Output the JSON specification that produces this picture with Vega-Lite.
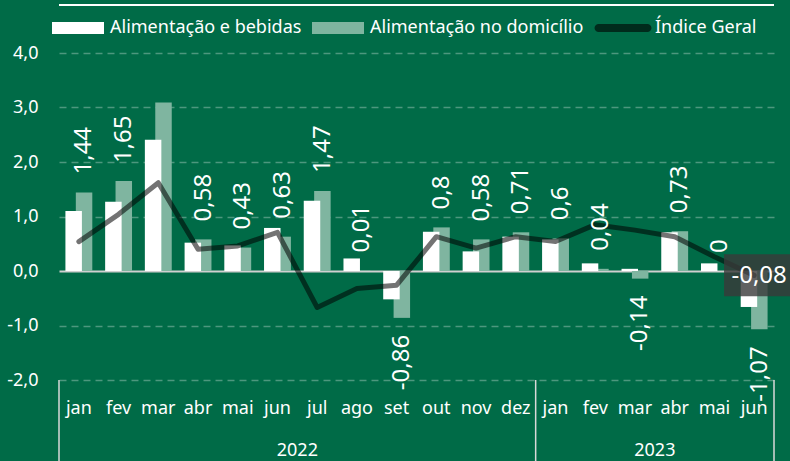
{
  "$schema": "https://vega.github.io/schema/vega-lite/v6.json",
  "width": 715,
  "height": 327,
  "autosize": {"type": "none"},
  "padding": {"left": 59, "top": 53, "right": 16, "bottom": 81},
  "background": "#006b47",
  "config": {
    "view": {"stroke": null},
    "font": "Noto Sans",
    "legend": {
      "orient": "none",
      "legendX": -7,
      "legendY": -51,
      "direction": "horizontal",
      "labelFontSize": 18,
      "labelColor": "#ffffff",
      "labelLimit": 0,
      "labelOffset": 6,
      "columnPadding": 10,
      "symbolSize": 2704,
      "title": null
    }
  },
  "datasets": {
    "main": [
      {"m": "jan/22", "ab": 1.10, "dom": 1.44, "ig": 0.54, "lab": "1,44"},
      {"m": "fev/22", "ab": 1.27, "dom": 1.65, "ig": 1.04, "lab": "1,65"},
      {"m": "mar/22", "ab": 2.41, "dom": 3.09, "ig": 1.62, "lab": ""},
      {"m": "abr/22", "ab": 0.52, "dom": 0.58, "ig": 0.40, "lab": "0,58"},
      {"m": "mai/22", "ab": 0.47, "dom": 0.43, "ig": 0.46, "lab": "0,43"},
      {"m": "jun/22", "ab": 0.79, "dom": 0.63, "ig": 0.71, "lab": "0,63"},
      {"m": "jul/22", "ab": 1.29, "dom": 1.47, "ig": -0.67, "lab": "1,47"},
      {"m": "ago/22", "ab": 0.23, "dom": 0.01, "ig": -0.32, "lab": "0,01"},
      {"m": "set/22", "ab": -0.52, "dom": -0.86, "ig": -0.26, "lab": "-0,86"},
      {"m": "out/22", "ab": 0.72, "dom": 0.80, "ig": 0.63, "lab": "0,8"},
      {"m": "nov/22", "ab": 0.36, "dom": 0.58, "ig": 0.42, "lab": "0,58"},
      {"m": "dez/22", "ab": 0.63, "dom": 0.71, "ig": 0.63, "lab": "0,71"},
      {"m": "jan/23", "ab": 0.58, "dom": 0.60, "ig": 0.54, "lab": "0,6"},
      {"m": "fev/23", "ab": 0.14, "dom": 0.04, "ig": 0.85, "lab": "0,04"},
      {"m": "mar/23", "ab": 0.04, "dom": -0.14, "ig": 0.75, "lab": "-0,14"},
      {"m": "abr/23", "ab": 0.71, "dom": 0.73, "ig": 0.63, "lab": "0,73"},
      {"m": "mai/23", "ab": 0.14, "dom": 0.00, "ig": 0.26, "lab": "0"},
      {"m": "jun/23", "ab": -0.66, "dom": -1.07, "ig": -0.08, "lab": "-1,07"}
    ],
    "years": [
      {"m": "jun/22", "ano": "2022"},
      {"m": "mar/23", "ano": "2023"}
    ],
    "startEdges": [{"m": "jan/22"}, {"m": "jan/23"}],
    "endEdges": [{"m": "jun/23"}],
    "last": [{"m": "jun/23", "ig": -0.08, "t": "-0,08"}],
    "top": [{"v": 4.88}]
  },
  "data": {"name": "main"},
  "layer": [
    {
      "mark": {"type": "bar", "width": {"band": 0.415}, "xOffset": 5.2},
      "encoding": {
        "x": {
          "field": "m",
          "type": "nominal",
          "scale": {
            "domain": ["jan/22","fev/22","mar/22","abr/22","mai/22","jun/22","jul/22","ago/22","set/22","out/22","nov/22","dez/22","jan/23","fev/23","mar/23","abr/23","mai/23","jun/23"],
            "paddingInner": 0,
            "paddingOuter": 0
          },
          "axis": {
            "title": null,
            "labelExpr": "split(datum.label, '/')[0]",
            "labelAngle": 0,
            "labelFontSize": 18,
            "labelColor": "#ffffff",
            "labelPadding": 19,
            "domain": false,
            "ticks": false,
            "grid": false
          }
        },
        "y": {
          "field": "dom",
          "type": "quantitative",
          "title": null,
          "scale": {"domain": [-2, 4], "nice": false, "zero": false},
          "axis": {
            "values": [-2, -1, 0, 1, 2, 3, 4],
            "labelExpr": "(datum.value < 0 ? '-' : '') + replace(format(abs(datum.value), '.1f'), '.', ',')",
            "labelFontSize": 18,
            "labelColor": "#ffffff",
            "labelPadding": 21,
            "domain": false,
            "ticks": false,
            "title": null,
            "gridColor": {"condition": {"test": "datum.value === 0", "value": "#d0d0d0"}, "value": "#ffffff"},
            "gridOpacity": {"condition": {"test": "datum.value === 0", "value": 1}, "value": 0.3},
            "gridDash": {"condition": {"test": "datum.value === 0", "value": []}, "value": [7, 5]},
            "gridWidth": {"condition": {"test": "datum.value === 0", "value": 2}, "value": 1.3}
          }
        },
        "y2": {"datum": 0},
        "color": {
          "datum": "Alimentação no domicílio",
          "scale": {
            "domain": ["Alimentação e bebidas", "Alimentação no domicílio", "Índice Geral"],
            "range": ["#ffffff", "#7fb5a0", "#000000"]
          },
          "legend": {
            "encode": {
              "symbols": {
                "update": {
                  "shape": {"signal": "datum.value === 'Índice Geral' ? 'M-0.94,-0.155L0.94,-0.155A0.155,0.155 0 0 1 0.94,0.155L-0.94,0.155A0.155,0.155 0 0 1 -0.94,-0.155Z' : 'M-1,-0.23L1,-0.23L1,0.23L-1,0.23Z'"},
                  "fillOpacity": {"signal": "datum.value === 'Índice Geral' ? 0.6 : 1"},
                  "opacity": {"value": 1},
                  "strokeWidth": {"value": 0}
                }
              }
            }
          }
        }
      }
    },
    {
      "mark": {"type": "bar", "width": {"band": 0.415}, "xOffset": -5.2},
      "encoding": {
        "x": {"field": "m", "type": "nominal"},
        "y": {"field": "ab", "type": "quantitative", "title": null},
        "y2": {"datum": 0},
        "color": {"datum": "Alimentação e bebidas"}
      }
    },
    {
      "mark": {"type": "line", "strokeWidth": 5, "opacity": 0.55, "strokeCap": "round", "strokeJoin": "round"},
      "encoding": {
        "x": {"field": "m", "type": "nominal"},
        "y": {"field": "ig", "type": "quantitative", "title": null},
        "color": {"datum": "Índice Geral"}
      }
    },
    {
      "transform": [{"filter": "datum.lab !== '' && datum.dom >= 0"}],
      "mark": {"type": "text", "angle": 270, "align": "left", "baseline": "middle", "dx": 18, "xOffset": 5.5, "fontSize": 24, "color": "#ffffff"},
      "encoding": {
        "x": {"field": "m", "type": "nominal"},
        "y": {"field": "dom", "type": "quantitative", "title": null},
        "text": {"field": "lab"}
      }
    },
    {
      "transform": [{"filter": "datum.lab !== '' && datum.dom < 0"}],
      "mark": {"type": "text", "angle": 270, "align": "right", "baseline": "middle", "dx": -17, "xOffset": 5.5, "fontSize": 24, "color": "#ffffff"},
      "encoding": {
        "x": {"field": "m", "type": "nominal"},
        "y": {"field": "dom", "type": "quantitative", "title": null},
        "text": {"field": "lab"}
      }
    },
    {
      "data": {"name": "last"},
      "mark": {"type": "point", "shape": "M-1.6,-1L1.6,-1L1.6,1L-1.6,1Z", "size": 1764, "filled": true, "fill": "#3a3a3a", "fillOpacity": 0.8, "strokeWidth": 0, "xOffset": 3.5},
      "encoding": {
        "x": {"field": "m", "type": "nominal"},
        "y": {"field": "ig", "type": "quantitative", "title": null}
      }
    },
    {
      "data": {"name": "last"},
      "mark": {"type": "text", "fontSize": 24, "color": "#ffffff", "align": "center", "baseline": "middle", "xOffset": 5, "dy": 1},
      "encoding": {
        "x": {"field": "m", "type": "nominal"},
        "y": {"field": "ig", "type": "quantitative", "title": null},
        "text": {"field": "t"}
      }
    },
    {
      "data": {"name": "startEdges"},
      "mark": {"type": "rule", "color": "#d9d9d9", "strokeWidth": 1.5, "clip": false},
      "encoding": {
        "x": {"field": "m", "type": "nominal", "bandPosition": 0},
        "y": {"datum": -2},
        "y2": {"datum": -3.5}
      }
    },
    {
      "data": {"name": "endEdges"},
      "mark": {"type": "rule", "color": "#d9d9d9", "strokeWidth": 1.5, "clip": false},
      "encoding": {
        "x": {"field": "m", "type": "nominal", "bandPosition": 1},
        "y": {"datum": -2},
        "y2": {"datum": -3.5}
      }
    },
    {
      "data": {"name": "years"},
      "mark": {"type": "text", "fontSize": 18, "color": "#ffffff", "align": "center", "baseline": "middle", "dy": 71},
      "encoding": {
        "x": {"field": "m", "type": "nominal", "bandPosition": 1},
        "y": {"datum": -2},
        "text": {"field": "ano"}
      }
    },
    {
      "data": {"name": "top"},
      "mark": {"type": "rule", "color": "#ffffff", "strokeWidth": 2, "clip": false},
      "encoding": {
        "y": {"datum": 4.88}
      }
    }
  ]
}
